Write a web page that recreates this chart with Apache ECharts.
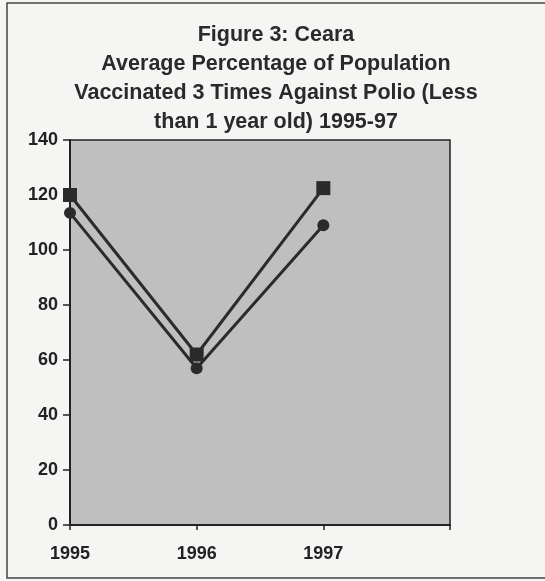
<!DOCTYPE html>
<html>
<head>
<meta charset="utf-8">
<script src="https://cdn.jsdelivr.net/npm/echarts@6/dist/echarts.min.js"></script>
<style>
html,body{margin:0;padding:0;background:#f5f5f3;}
#c{width:545px;height:581px;}
</style>
</head>
<body>
<div id="c"></div>
<script>
const categories = ['1995', '1996', '1997', ''];
const seriesSquare = [120, 62, 122.5];
const seriesCircle = [113.5, 57, 109];
const yTicks = [0, 20, 40, 60, 80, 100, 120, 140];

const chart = echarts.init(document.getElementById('c'), null, {renderer: 'canvas'});
chart.setOption({
  backgroundColor: '#f5f5f3',
  animation: false,
  title: {
    text: 'Figure 3: Ceara\nAverage Percentage of Population\nVaccinated 3 Times Against Polio (Less\nthan 1 year old) 1995-97',
    left: 271,
    top: 16,
    textAlign: 'center',
    textStyle: {
      fontFamily: 'Liberation Sans, Arial, sans-serif',
      fontWeight: 'bold',
      fontSize: 21.5,
      lineHeight: 29,
      color: '#2a2a2a'
    }
  },
  graphic: [{
    type: 'rect',
    shape: {x: 7, y: 3, width: 560, height: 575},
    style: {fill: 'none', stroke: '#444', lineWidth: 1.5},
    silent: true
  }],
  grid: {left: 70, right: 95, top: 140, bottom: 56, show: true, backgroundColor: '#bfbfbf', borderColor: '#222', borderWidth: 1.5},
  xAxis: {
    type: 'category',
    data: categories,
    boundaryGap: false,
    axisLine: {lineStyle: {color: '#222', width: 2}},
    axisTick: {show: true, length: 5, lineStyle: {color: '#222', width: 1.5}},
    axisLabel: {margin: 20, fontFamily: 'Liberation Sans, Arial, sans-serif', fontWeight: 'bold', fontSize: 18, color: '#222'},
    splitLine: {show: false}
  },
  yAxis: {
    type: 'value',
    min: yTicks[0],
    max: yTicks[yTicks.length - 1],
    interval: 20,
    axisLine: {show: true, lineStyle: {color: '#222', width: 2}},
    axisTick: {show: true, length: 7, lineStyle: {color: '#222', width: 1.5}},
    axisLabel: {margin: 12, fontFamily: 'Liberation Sans, Arial, sans-serif', fontWeight: 'bold', fontSize: 18, color: '#222'},
    splitLine: {show: false}
  },
  series: [{
    type: 'line',
    data: seriesSquare,
    symbol: 'rect',
    symbolSize: 14,
    lineStyle: {color: '#2b2b2b', width: 3},
    itemStyle: {color: '#2b2b2b'}
  }, {
    type: 'line',
    data: seriesCircle,
    symbol: 'circle',
    symbolSize: 12,
    lineStyle: {color: '#2b2b2b', width: 3},
    itemStyle: {color: '#2b2b2b'}
  }]
});
</script>
</body>
</html>
